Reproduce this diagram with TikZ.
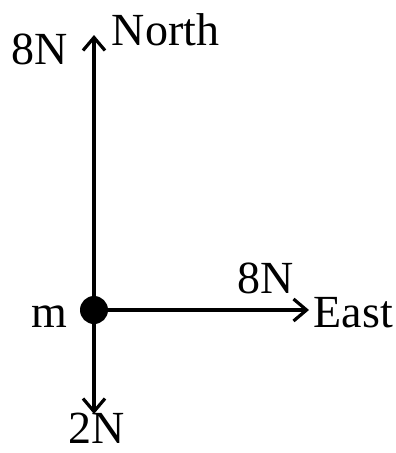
\documentclass[tikz,border=0pt]{standalone}
\usepackage{fontspec}
\setmainfont{Liberation Serif}
\usetikzlibrary{arrows.meta, positioning}
\tikzset{
  every picture/.style={line width=3.6pt},
  force/.style={-{Straight Barb[length=13pt, width=22pt, line width=3.2pt]}, draw=black},
  lbl/.style={inner sep=0pt, font=\fontsize{46}{50}\selectfont},
  mass/.style={circle, fill=black, inner sep=0pt, minimum size=28pt},
}
\begin{document}
\begin{tikzpicture}[x=1pt, y=-1pt]
  \useasboundingbox (0,0) rectangle (396,453);
  % body and the three forces
  \node[mass] (m) at (94,310) {};
  \coordinate (ntip) at (94,35);
  \coordinate (etip) at (309,310);
  \coordinate (stip) at (94,414);
  \draw[force] (m.center) -- (ntip);
  \draw[force] (m.center) -- (etip);
  \draw[force] (m.center) -- (stip);
  % labels
  \node[lbl, anchor=base west] (north) at (110,45) {North};
  \node[lbl, anchor=base east] (fn) at (70,64) {8N};
  \node[lbl, anchor=base west] (east) at (312,327) {East};
  \node[lbl, anchor=base west] (fe) at (236,293) {8N};
  \node[lbl, anchor=base east] (mlbl) at (69,327) {m};
  \node[lbl, anchor=base west] (fs) at (67,443) {2N};
\end{tikzpicture}
\end{document}
